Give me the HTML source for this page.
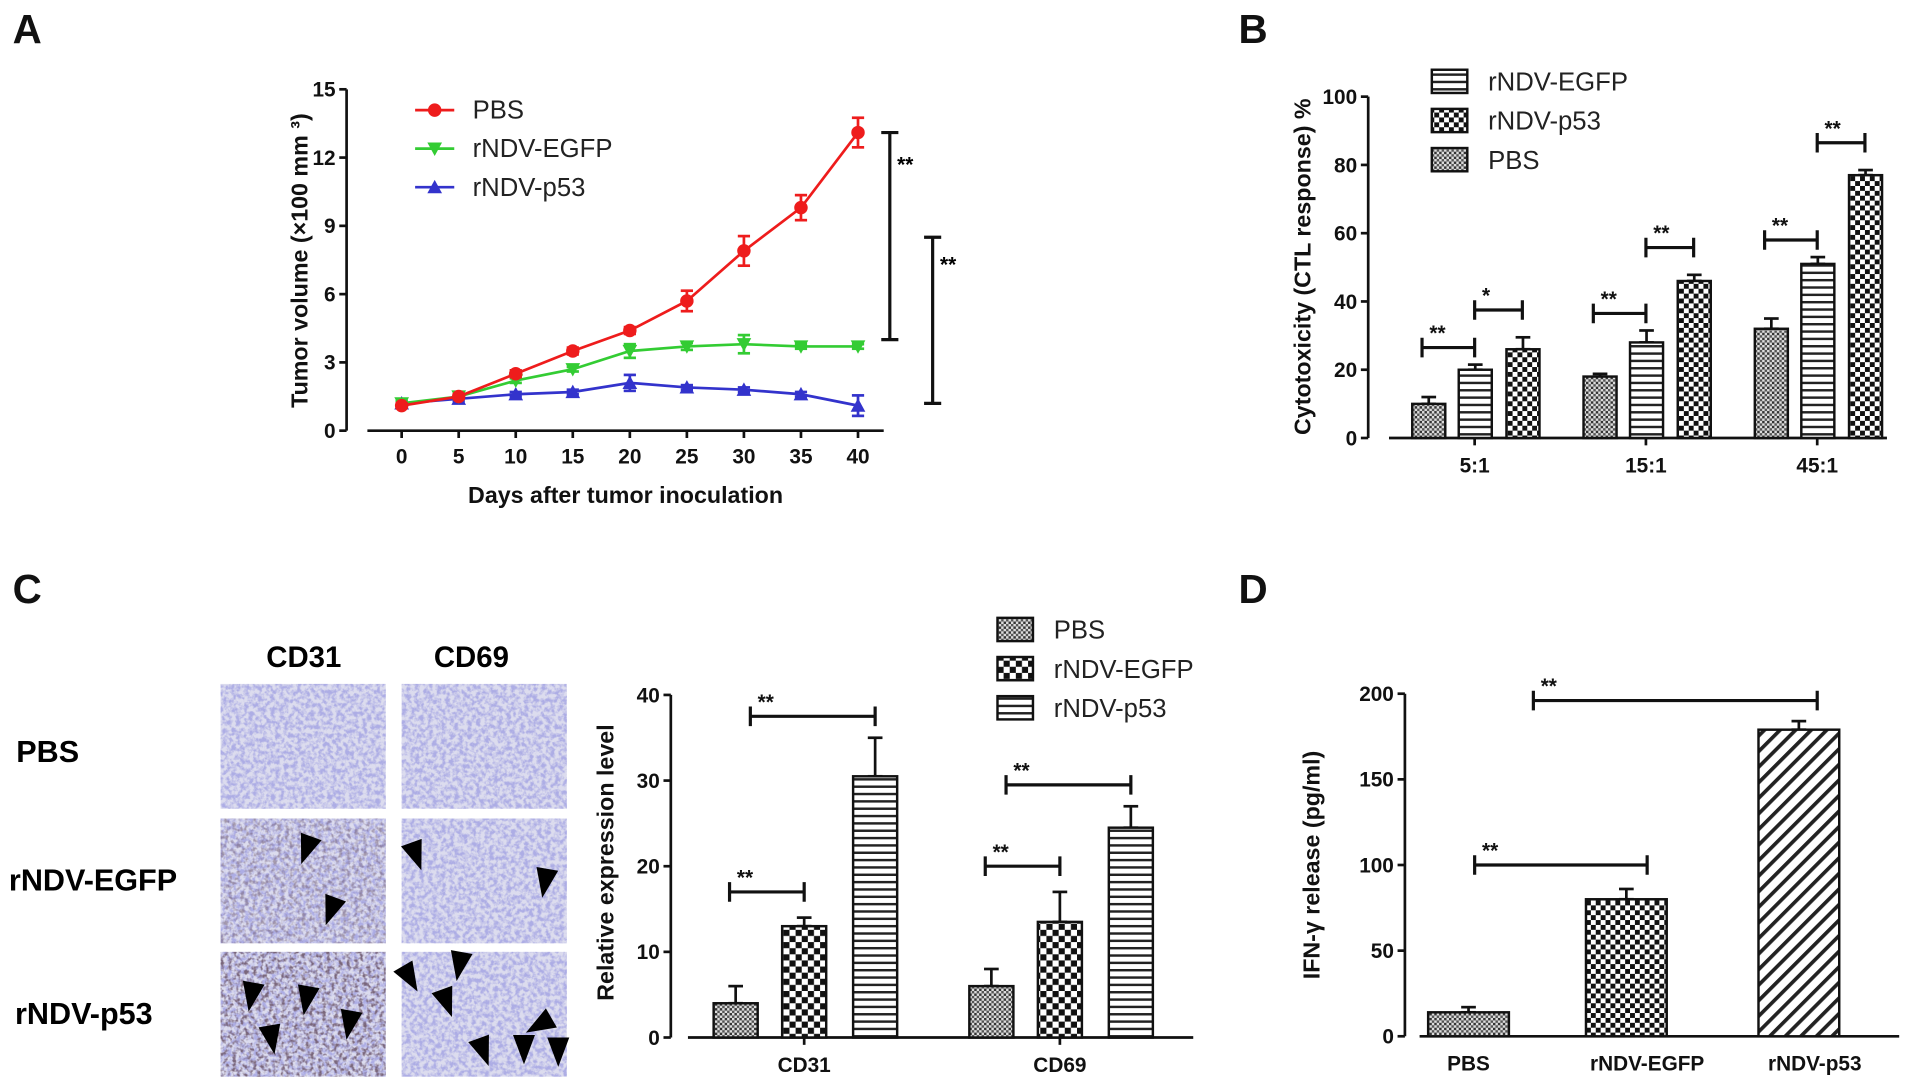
<!DOCTYPE html>
<html><head><meta charset="utf-8"><style>
html,body{margin:0;padding:0;background:#fff;}
svg{display:block;font-family:"Liberation Sans",sans-serif;}
.tk{font-size:17px;font-weight:bold;fill:#111;}
.ax{stroke:#111;stroke-width:2.2;fill:none;}
.lg{font-size:21px;fill:#222;}
.tt{font-size:19px;font-weight:bold;fill:#111;}
.pl{font-size:33px;font-weight:bold;fill:#111;}
</style></head><body>
<svg id="fig" width="1913" height="1084" viewBox="0 0 1563 886" xmlns="http://www.w3.org/2000/svg">
<defs>
<pattern id="pDense" width="4" height="4" patternUnits="userSpaceOnUse"><rect width="4" height="4" fill="#ddd"/><rect width="2" height="2" fill="#333"/><rect x="2" y="2" width="2" height="2" fill="#555"/></pattern>
<pattern id="pCheck" width="10" height="10" patternUnits="userSpaceOnUse"><rect width="10" height="10" fill="#fff"/><rect width="5" height="5" fill="#111"/><rect x="5" y="5" width="5" height="5" fill="#111"/></pattern>
<pattern id="pCheckS" width="8" height="8" patternUnits="userSpaceOnUse"><rect width="8" height="8" fill="#fff"/><rect width="4" height="4" fill="#111"/><rect x="4" y="4" width="4" height="4" fill="#111"/></pattern>
<pattern id="pHoriz" width="6" height="6" patternUnits="userSpaceOnUse"><rect width="6" height="6" fill="#fff"/><rect y="0" width="6" height="2" fill="#222"/></pattern>
<pattern id="pDiag" width="9" height="9" patternUnits="userSpaceOnUse" patternTransform="rotate(45)"><rect width="9" height="9" fill="#fff"/><rect width="3" height="9" fill="#222"/></pattern>
<filter id="tissue" x="0" y="0" width="100%" height="100%"><feTurbulence type="fractalNoise" baseFrequency="0.28" numOctaves="3" seed="3"/><feColorMatrix type="matrix" values="0 0 0 0 0.42  0 0 0 0 0.42  0 0 0 0 0.78  0 0 0 -3.2 2.0"/><feComposite in2="SourceGraphic" operator="in"/></filter>
<filter id="tissueD" x="0" y="0" width="100%" height="100%"><feTurbulence type="fractalNoise" baseFrequency="0.3" numOctaves="2" seed="9"/><feColorMatrix type="matrix" values="0 0 0 0 0.18  0 0 0 0 0.12  0 0 0 0 0.18  0 0 0 -3.5 1.9"/><feComposite in2="SourceGraphic" operator="in"/></filter>
</defs>
<text class="pl" x="10" y="35">A</text>
<text class="pl" x="1012" y="35">B</text>
<text class="pl" x="10" y="493">C</text>
<text class="pl" x="1012" y="493">D</text>
<g id="A"></g>
<g id="B"></g>
<g id="Cimg"></g>
<g id="C"></g>
<g id="D"></g>
</svg>
<script>
// ---- Panel A data
const aDays=[0,5,10,15,20,25,30,35,40];
const aPBS=[1.1,1.5,2.5,3.5,4.4,5.7,7.9,9.8,13.1];
const aPBSerr=[0.1,0.1,0.15,0.15,0.15,0.45,0.65,0.55,0.65];
const aEGFP=[1.2,1.5,2.2,2.7,3.5,3.7,3.8,3.7,3.7];
const aEGFPerr=[0.1,0.1,0.1,0.1,0.3,0.15,0.4,0.1,0.1];
const aP53=[1.2,1.4,1.6,1.7,2.1,1.9,1.8,1.6,1.1];
const aP53err=[0.1,0.1,0.1,0.1,0.35,0.1,0.1,0.1,0.45];
const aYTicks=[0,3,6,9,12,15];
// ---- Panel B data
const bCats=["5:1","15:1","45:1"];
const bPBS=[10,18,32];const bPBSerr=[2,0.8,3];
const bEGFP=[20,28,51];const bEGFPerr=[1.5,3.5,2];
const bP53=[26,46,77];const bP53err=[3.5,1.8,1.5];
const bYTicks=[0,20,40,60,80,100];
// ---- Panel C data
const cCats=["CD31","CD69"];
const cPBS=[4,6];const cPBSerr=[2,2];
const cEGFP=[13,13.5];const cEGFPerr=[1,3.5];
const cP53=[30.5,24.5];const cP53err=[4.5,2.5];
const cYTicks=[0,10,20,30,40];
// ---- Panel D data
const dCats=["PBS","rNDV-EGFP","rNDV-p53"];
const dVals=[14,80,179];const dErr=[3,6,5];
const dYTicks=[0,50,100,150,200];

const NS="http://www.w3.org/2000/svg";
function mk(parent,tag,attrs,txt){const e=document.createElementNS(NS,tag);for(const k in attrs)e.setAttribute(k,attrs[k]);if(txt!==undefined)e.textContent=txt;parent.appendChild(e);return e;}
function lin(d0,d1,r0,r1){return v=>r0+(v-d0)/(d1-d0)*(r1-r0);}
function errBar(g,x,y1,y2,w,color){mk(g,'line',{x1:x,y1:y1,x2:x,y2:y2,stroke:color,'stroke-width':2.2});mk(g,'line',{x1:x-w,y1:y2,x2:x+w,y2:y2,stroke:color,'stroke-width':2.2});mk(g,'line',{x1:x-w,y1:y1,x2:x+w,y2:y1,stroke:color,'stroke-width':2.2});}
function sig(g,x1,x2,y,label){const l=mk(g,'path',{d:`M${x1},${y-8}V${y+8}M${x1},${y}H${x2}M${x2},${y-8}V${y+8}`,stroke:'#111','stroke-width':2.6,fill:'none'});


const t=mk(g,'text',{x:x1+6,y:y-6,'font-size':17,'font-weight':'bold',fill:'#111'},label);

}
function yAxis(g,x,y0,y1,ticks,sy){mk(g,'line',{x1:x,y1:y0,x2:x,y2:y1,class:'ax'});ticks.forEach(v=>{const y=sy(v);mk(g,'line',{x1:x-6,y1:y,x2:x,y2:y,class:'ax'});const t=mk(g,'text',{x:x-9,y:y+6,class:'tk','text-anchor':'end'},v);

});}

// ===== Panel A
(function(){const g=document.getElementById('A');
const sx=lin(0,40,328,701),sy=lin(0,15,352,73);
yAxis(g,283,352,73,aYTicks,sy);
mk(g,'line',{x1:300,y1:352,x2:722,y2:352,class:'ax'});
aDays.forEach(d=>{mk(g,'line',{x1:sx(d),y1:352,x2:sx(d),y2:358,class:'ax'});const t=mk(g,'text',{x:sx(d),y:379,class:'tk','text-anchor':'middle'},d);

});
const series=[[aPBS,aPBSerr,'#ee1c1c','circle','PBS'],[aEGFP,aEGFPerr,'#33cc33','down','rNDV-EGFP'],[aP53,aP53err,'#3333cc','up','rNDV-p53']];
function marker(p,x,y,type,c){if(type==='circle')return mk(p,'circle',{cx:x,cy:y,r:5.5,fill:c});if(type==='down')return mk(p,'path',{d:`M${x-6},${y-5}H${x+6}L${x},${y+6}Z`,fill:c});return mk(p,'path',{d:`M${x-6},${y+5}H${x+6}L${x},${y-6}Z`,fill:c});}
series.slice().reverse().forEach(([v,e,c,m,name])=>{const sg=mk(g,'g',{});


mk(sg,'polyline',{points:aDays.map((d,i)=>sx(d)+','+sy(v[i])).join(' '),fill:'none',stroke:c,'stroke-width':2.2});
aDays.forEach((d,i)=>{errBar(sg,sx(d),sy(v[i]-e[i]),sy(v[i]+e[i]),5,c);const mm=marker(sg,sx(d),sy(v[i]),m,c);

});});
series.forEach(([v,e,c,m,name],i)=>{const y=90+i*31.5;const lg=mk(g,'g',{});


mk(lg,'line',{x1:339,y1:y,x2:371,y2:y,stroke:c,'stroke-width':2.2});marker(lg,355,y,m,c);mk(lg,'text',{x:386,y:y+7,class:'lg'},name);});
[[727,13.1,4.0,140],[762,8.5,1.2,222]].forEach(([x,a,b,ly])=>{mk(g,'path',{d:`M${x-7},${sy(a)}H${x+7}M${x},${sy(a)}V${sy(b)}M${x-7},${sy(b)}H${x+7}`,stroke:'#111','stroke-width':2.6,fill:'none'});mk(g,'text',{x:x+6,y:ly,'font-size':17,'font-weight':'bold'},'**');});
const yt=mk(g,'text',{x:0,y:0,class:'tt',transform:'translate(257,213) rotate(-90)','text-anchor':'middle'},'Tumor volume  (×100 mm ³)');


yt.setAttribute('transform','translate(251,213) rotate(-90)');
const xt=mk(g,'text',{x:511,y:411,class:'tt','text-anchor':'middle'},'Days after tumor inoculation');


})();

function bars(g,vals,errs,fill,xs,w,sy){vals.forEach((v,i)=>{const x=xs[i];errBar(g,x+w/2,sy(v),sy(v+errs[i]),6,'#111');const r=mk(g,'rect',{x:x,y:sy(v),width:w,height:sy(0)-sy(v),fill:fill,stroke:'#111','stroke-width':2});

});}
function legend(g,x,y0,dy,items){items.forEach(([f,n],i)=>{const y=y0+i*dy;const lg=mk(g,'g',{});


mk(lg,'rect',{x:x,y:y-9,width:29,height:19,fill:f,stroke:'#111','stroke-width':2});mk(lg,'text',{x:x+46,y:y+8,class:'lg'},n);});}

// ===== Panel B
(function(){const g=document.getElementById('B');
const sy=lin(0,100,358,79);const w=27;const centers=[1205,1345,1485];
yAxis(g,1118,358,79,bYTicks,sy);
mk(g,'line',{x1:1135,y1:358,x2:1542,y2:358,class:'ax'});
centers.forEach((c,i)=>{mk(g,'line',{x1:c,y1:358,x2:c,y2:364,class:'ax'});const t=mk(g,'text',{x:c,y:386,class:'tk','text-anchor':'middle'},bCats[i]);

});
bars(g,bPBS,bPBSerr,'url(#pDense)',centers.map(c=>c-51),w,sy);
bars(g,bEGFP,bEGFPerr,'url(#pHoriz)',centers.map(c=>c-13),w,sy);
bars(g,bP53,bP53err,'url(#pCheckS)',centers.map(c=>c+26),w,sy);
centers.forEach((c,i)=>{const y1=sy(Math.max(bPBS[i]+bPBSerr[i],bEGFP[i]+bEGFPerr[i])+5);sig(g,c-43,c,y1,'**');const y2=sy(bP53[i]+bP53err[i]+8);sig(g,c,c+39,y2,i===0?'*':'**');});
legend(g,1170,66,32,[['url(#pHoriz)','rNDV-EGFP'],['url(#pCheckS)','rNDV-p53'],['url(#pDense)','PBS']]);
const yt=mk(g,'text',{x:0,y:0,class:'tt',transform:'translate(1071,218) rotate(-90)','text-anchor':'middle'},'Cytotoxicity (CTL response) %');


})();

// ===== Panel C micrographs
(function(){const g=document.getElementById('Cimg');
mk(g,'text',{x:248,y:545,'font-size':24,'font-weight':'bold','text-anchor':'middle'},'CD31');
mk(g,'text',{x:385,y:545,'font-size':24,'font-weight':'bold','text-anchor':'middle'},'CD69');
[['PBS',13,623],['rNDV-EGFP',7,728],['rNDV-p53',12,837]].forEach(([n,x,y])=>{const t=mk(g,'text',{x:x,y:y,'font-size':25,'font-weight':'bold'},n);

});
const cols=[180,328],rows=[559,669,778],W=135,H=102;
rows.forEach((y,ri)=>cols.forEach((x,ci)=>{const cell=mk(g,'g',{});


mk(cell,'rect',{x:x,y:y,width:W,height:H,fill:'#dcdcee'});
mk(cell,'rect',{x:x,y:y,width:W,height:H,fill:'#000',filter:'url(#tissue)'});
if(ci===0&&ri>0){mk(cell,'rect',{x:x,y:y,width:W,height:H,fill:'#000',filter:'url(#tissueD)',opacity:ri===2?0.95:0.55});}}));
const arrows=[[250,695,20],[270,745,20],[340,700,-20],[445,722,10],[205,815,10],[250,818,10],[285,838,10],[222,850,-10],[375,790,10],[335,800,-30],[365,820,-20],[440,838,60],[395,860,-20],[428,858,0],[456,860,0]];
arrows.forEach(([x,y,r])=>mk(g,'path',{d:`M${x-9},${y-12}H${x+9}L${x},${y+12}Z`,fill:'#000',transform:`rotate(${r} ${x} ${y})`}));
})();

// ===== Panel C bars
(function(){const g=document.getElementById('C');
const sy=lin(0,40,848,568);const w=36;const centers=[657,866];
yAxis(g,548,848,568,cYTicks,sy);
mk(g,'line',{x1:562,y1:848,x2:975,y2:848,class:'ax'});
centers.forEach((c,i)=>{mk(g,'line',{x1:c,y1:848,x2:c,y2:854,class:'ax'});const t=mk(g,'text',{x:c,y:876,class:'tk','text-anchor':'middle'},cCats[i]);

});
bars(g,cPBS,cPBSerr,'url(#pDense)',centers.map(c=>c-74),w,sy);
bars(g,cEGFP,cEGFPerr,'url(#pCheck)',centers.map(c=>c-18),w,sy);
bars(g,cP53,cP53err,'url(#pHoriz)',centers.map(c=>c+40),w,sy);
centers.forEach((c,i)=>{sig(g,c-61,c,sy(cEGFP[i]+cEGFPerr[i]+3),'**');sig(g,c-44,c+58,sy(cP53[i]+cP53err[i]+2.5),'**');});
legend(g,815,514,32,[['url(#pDense)','PBS'],['url(#pCheck)','rNDV-EGFP'],['url(#pHoriz)','rNDV-p53']]);
const yt=mk(g,'text',{x:0,y:0,class:'tt',transform:'translate(501,705) rotate(-90)','text-anchor':'middle'},'Relative expression level');


})();

// ===== Panel D
(function(){const g=document.getElementById('D');
const sy=lin(0,200,847,567);const w=66;const centers=[1200,1330,1470];const fills=['url(#pDense)','url(#pCheckS)','url(#pDiag)'];
yAxis(g,1148,847,567,dYTicks,sy);
mk(g,'line',{x1:1160,y1:847,x2:1552,y2:847,class:'ax'});
centers.forEach((c,i)=>{const t=mk(g,'text',{x:c+(i===1?16:i===2?13:0),y:875,class:'tk','text-anchor':'middle'},dCats[i]);

});
dVals.forEach((v,i)=>{bars(g,[v],[dErr[i]],fills[i],[i===0?1167:i===1?1296:1437],w,sy);});
sig(g,1205,1346,sy(dVals[1]+dErr[1]+14),'**');
sig(g,1253,1485,sy(dVals[2]+dErr[2]+12),'**');
const yt=mk(g,'text',{x:0,y:0,class:'tt',transform:'translate(1078,707) rotate(-90)','text-anchor':'middle'},'IFN-γ release (pg/ml)');


})();
</script>
</body></html>
